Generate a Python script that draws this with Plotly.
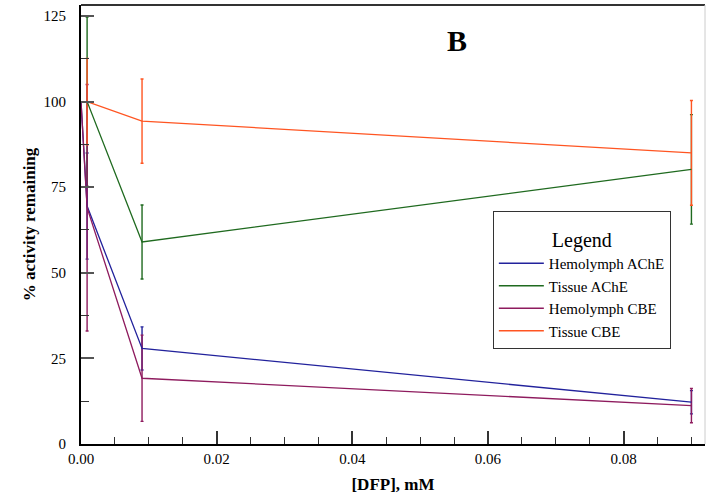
import plotly.graph_objects as go

dose = [0, 0.0009, 0.009, 0.09]
err_dose = [0.0009, 0.009, 0.09]

series_names = ["Hemolymph AChE", "Tissue AChE", "Hemolymph CBE", "Tissue CBE"]
hemo_ache = [100, 69.5, 27.9, 12.2]
tissue_ache = [100, 100, 59.0, 80.2]
hemo_cbe = [100, 69.0, 19.2, 11.2]
tissue_cbe = [100, 100, 94.3, 85.0]

hemo_ache_err = [15.5, 6.3, 3.4]
tissue_ache_err = [24.7, 10.8, 16.0]
hemo_cbe_err = [36.0, 12.6, 5.0]
tissue_cbe_err = [12.6, 12.3, 15.3]

colors = ["#22229c", "#1f6a1f", "#8e1b5e", "#ff5522"]
values = [hemo_ache, tissue_ache, hemo_cbe, tissue_cbe]
errors = [hemo_ache_err, tissue_ache_err, hemo_cbe_err, tissue_cbe_err]

FONT = "Liberation Serif, Times New Roman, serif"

fig = go.Figure()
for name, vals, errs, col in zip(series_names, values, errors, colors):
    fig.add_trace(go.Scatter(
        x=err_dose, y=vals[1:], mode="lines", showlegend=False,
        line=dict(color="rgba(0,0,0,0)", width=0),
        error_y=dict(type="data", array=errs, visible=True, color=col,
                     thickness=1.4, width=1.5),
        hoverinfo="skip",
    ))
for name, vals, col in zip(series_names, values, colors):
    fig.add_trace(go.Scatter(
        x=dose, y=vals, mode="lines", name=name,
        line=dict(color=col, width=1.3),
    ))

fig.update_layout(
    width=706, height=504,
    margin=dict(l=81, r=1, t=5, b=60),
    paper_bgcolor="white", plot_bgcolor="white",
    font=dict(family=FONT, size=15, color="black"),
    legend=dict(
        x=0.66, y=0.531, xanchor="left", yanchor="top",
        bordercolor="#333", borderwidth=1, bgcolor="white",
        font=dict(family=FONT, size=15, color="black"),
        title=dict(text="<span style='font-size:20px'>Legend</span>", side="top center",
                   font=dict(family=FONT, size=27, color="black")),
        itemwidth=45, tracegroupgap=0,
    ),
    xaxis=dict(
        range=[0, 0.092], showgrid=False, zeroline=False,
        showline=True, linecolor="black", linewidth=2,
        ticks="inside", ticklen=13, tickwidth=1.5, tickcolor="#333",
        tick0=0, dtick=0.02, tickformat=".2f",
        minor=dict(ticks="inside", ticklen=7, dtick=0.005, tickwidth=1.2, tickcolor="#333"),
        tickfont=dict(family=FONT, size=15),
        ticklabelstandoff=0,
        title=dict(text="<b>[DFP], mM</b>", font=dict(family=FONT, size=17), standoff=12),
    ),
    yaxis=dict(
        range=[0, 128.2], showgrid=False, zeroline=False,
        showline=True, linecolor="black", linewidth=2,
        ticks="inside", ticklen=13, tickwidth=1.5, tickcolor="#555",
        tick0=0, dtick=25,
        minor=dict(ticks="inside", ticklen=8, dtick=12.5, tickwidth=1.2, tickcolor="#333"),
        tickfont=dict(family=FONT, size=15),
        ticklabelstandoff=10,
        title=dict(text="<b>% activity remaining</b>", font=dict(family=FONT, size=17), standoff=4),
    ),
    shapes=[
        dict(type="line", xref="paper", yref="paper", x0=0, x1=1, y0=1, y1=1,
             line=dict(color="#333", width=2)),
        dict(type="line", xref="paper", yref="paper", x0=1, x1=1, y0=0, y1=1,
             line=dict(color="#ccc", width=1)),
    ],
    annotations=[
        dict(text="<b>B</b>", x=0.602, y=0.92, xref="paper", yref="paper",
             xanchor="center", yanchor="middle",
             showarrow=False, font=dict(family=FONT, size=30, color="black")),
    ],
)

fig.write_html("out.html")
